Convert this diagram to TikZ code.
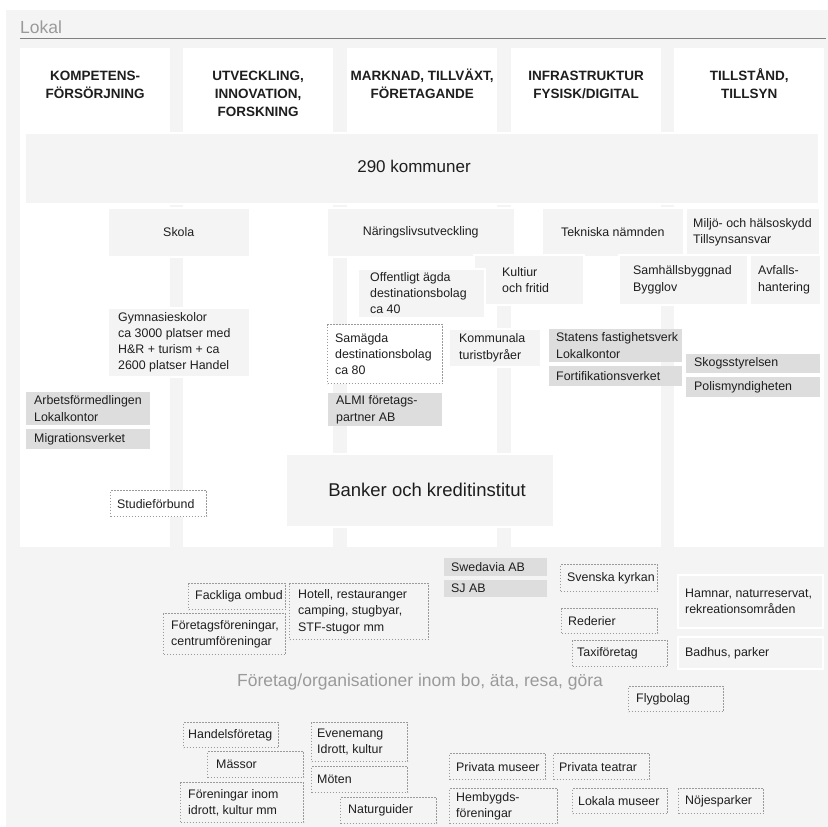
\documentclass[tikz,border=0pt]{standalone}
\usepackage{fontspec}
\setmainfont{Liberation Sans}

\definecolor{bgc}{HTML}{F4F4F4}
\definecolor{darkc}{HTML}{DDDDDD}
\definecolor{dotc}{HTML}{9A9A9A}
\definecolor{inkc}{HTML}{1E1E1E}
\definecolor{softc}{HTML}{9A9A9A}

\tikzset{
  colbox/.style={fill=white, inner sep=0pt},
  lbox/.style={fill=bgc, draw=white, line width=1.5pt, inner sep=0pt},
  dbox/.style={fill=darkc, inner sep=0pt},
  wbox/.style={draw=white, line width=2pt, inner sep=0pt},
  dotbox/.style={fill=white, draw=dotc, line width=1.2pt, dash pattern=on 1.2pt off 1.8pt, inner sep=0pt},
  dotboxg/.style={dotbox, fill=bgc},
  txt/.style={text=inkc, font=\fontsize{12.4}{16.3}\selectfont, align=left, inner sep=0pt},
  head/.style={text=inkc, font=\fontsize{13.5}{18}\selectfont\bfseries, align=center, inner sep=0pt},
}

% box with left aligned text: [pad]{style}{name}{x}{y}{w}{h}{text}
\newcommand{\orgbox}[8][7]{%
  \node[#2, anchor=north west, minimum width=#6pt, minimum height=#7pt] (#3) at (#4,#5) {};
  \node[txt, anchor=west] (#3t) at ([xshift=#1pt]#3.west) {#8};}

\begin{document}
\begin{tikzpicture}[x=1pt,y=-1pt]
    \useasboundingbox (0,0) rectangle (828,827);
    \fill[bgc] (6,10) rectangle (828,827);
    \node[anchor=base west, text=softc, font=\fontsize{17.5}{20}\selectfont, inner sep=0pt] (lokal) at (20,33) {Lokal};
    \draw[gray, line width=0.8pt] (20,38) -- (826,38);

    % kolumner
    \foreach \x/\t/\k in {20/{KOMPETENS-\\FÖRSÖRJNING}/komp, 183/{UTVECKLING,\\INNOVATION,\\FORSKNING}/utv,
                          347/{MARKNAD, TILLVÄXT,\\FÖRETAGANDE}/mark, 511/{INFRASTRUKTUR\\FYSISK/DIGITAL}/infra,
                          674/{TILLSTÅND,\\TILLSYN}/tills} {
        \node[colbox, anchor=north west, minimum width=150pt, minimum height=499pt] (col\k) at (\x,48) {};
        \node[head, anchor=north] (h\k) at ([yshift=-19.5pt]col\k.north) {\strut\t};
    }

    % kommunerna
    \node[lbox, anchor=north west, minimum width=794pt, minimum height=71pt] (komm) at (24,132) {};
    \node[text=inkc, font=\fontsize{17}{20}\selectfont] (kommt) at (414,166) {290 kommuner};

    \node[lbox, txt, anchor=north west, minimum width=142pt, minimum height=49pt, align=center] (skola) at (107,207) {Skola};
    \node[lbox, txt, anchor=north west, minimum width=188pt, minimum height=49pt, align=center] (naring) at (326,207) {Näringslivsutveckling};
    \node[lbox, txt, anchor=north west, minimum width=142pt, minimum height=49pt, align=center] (tekn) at (541,207) {Tekniska nämnden};
    \orgbox[8]{lbox}{miljo}{685}{207}{134}{49}{Miljö- och hälsoskydd\\Tillsynsansvar}

    \orgbox[29]{lbox}{kultur}{473}{254}{110}{50}{Kultiur\\och fritid}
    \orgbox[13]{lbox}{offent}{357}{268}{127}{49}{Offentligt ägda\\destinationsbolag\\ca 40}
    \orgbox[15]{lbox}{samh}{618}{254}{129}{50}{Samhällsbyggnad\\Bygglov}
    \orgbox[9]{lbox}{avfall}{749}{254}{71}{50}{Avfalls-\\hantering}

    \orgbox[11]{lbox}{gymn}{107}{307}{142}{69}{Gymnasieskolor\\ca 3000 platser med\\H\&R + turism + ca\\2600 platser Handel}
    \orgbox[8]{dotbox}{samag}{327}{324}{115}{59}{Samägda\\destinationsbolag\\ca 80}
    \orgbox[11]{lbox}{kommtur}{448}{328}{92}{38}{Kommunala\\turistbyråer}
    \orgbox{dbox}{statens}{549}{329}{133}{33}{Statens fastighetsverk\\Lokalkontor}
    \orgbox{dbox}{fort}{549}{366}{133}{20}{Fortifikationsverket}
    \orgbox[8]{dbox}{skog}{686}{354}{134}{19}{Skogsstyrelsen}
    \orgbox[8]{dbox}{polis}{686}{377}{134}{20}{Polismyndigheten}
    \orgbox[8]{dbox}{arbets}{26}{392}{124}{33}{Arbetsförmedlingen\\Lokalkontor}
    \orgbox[8]{dbox}{migr}{26}{429}{124}{20}{Migrationsverket}
    \orgbox[8]{dbox}{almi}{328}{393}{114}{33}{ALMI företags-\\partner AB}

    \node[lbox, anchor=north west, minimum width=268pt, minimum height=73pt] (bank) at (285,453) {};
    \node[text=inkc, font=\fontsize{18.5}{22}\selectfont] (bankt) at (427,490) {Banker och kreditinstitut};
    \orgbox{dotbox}{studie}{110}{490}{96}{26}{Studieförbund}

    % bo, äta, resa, göra
    \orgbox{dbox}{swed}{444}{558}{103}{18}{Swedavia AB}
    \orgbox{dbox}{sj}{444}{580}{103}{17}{SJ AB}
    \orgbox{dotboxg}{kyrka}{560}{564}{97}{27}{Svenska kyrkan}
    \orgbox[8]{wbox}{hamnar}{677}{574}{145}{53}{Hamnar, naturreservat,\\rekreationsområden}
    \orgbox[8]{wbox}{badhus}{677}{636}{145}{32}{Badhus, parker}
    \orgbox{dotboxg}{rederi}{561}{608}{96}{25}{Rederier}
    \orgbox[5]{dotboxg}{taxi}{572}{640}{95}{26}{Taxiföretag}
    \orgbox[8]{dotboxg}{flyg}{628}{686}{95}{25}{Flygbolag}
    \orgbox{dotboxg}{fack}{188}{583}{97}{26}{Fackliga ombud}
    \orgbox[9]{dotboxg}{hotell}{289}{583}{139}{56}{Hotell, restauranger\\camping, stugbyar,\\STF-stugor mm}
    \orgbox[8]{dotboxg}{foretag}{163}{613}{122}{41}{Företagsföreningar,\\centrumföreningar}

    \node[text=softc, font=\fontsize{17.5}{20}\selectfont] (bo) at (420,682) {Företag/organisationer inom bo, äta, resa, göra};

    \orgbox[5]{dotboxg}{handel}{183}{722}{95}{25}{Handelsföretag}
    \orgbox[9]{dotboxg}{massor}{207}{751}{96}{26}{Mässor}
    \orgbox[8]{dotboxg}{forening}{180}{782}{123}{40}{Föreningar inom\\idrott, kultur mm}
    \orgbox[6]{dotboxg}{evenemang}{311}{722}{96}{39}{Evenemang\\Idrott, kultur}
    \orgbox[6]{dotboxg}{moten}{311}{766}{96}{26}{Möten}
    \orgbox[8]{dotboxg}{natur}{340}{797}{96}{26}{Naturguider}
    \orgbox{dotboxg}{prmus}{449}{753}{96}{26}{Privata museer}
    \orgbox[6]{dotboxg}{prteat}{553}{753}{96}{26}{Privata teatrar}
    \orgbox{dotboxg}{hembygd}{449}{788}{108}{35}{Hembygds-\\föreningar}
    \orgbox[6]{dotboxg}{lokmus}{572}{788}{95}{25}{Lokala museer}
    \orgbox{dotboxg}{nojes}{678}{788}{85}{25}{Nöjesparker}
\end{tikzpicture}
\end{document}
